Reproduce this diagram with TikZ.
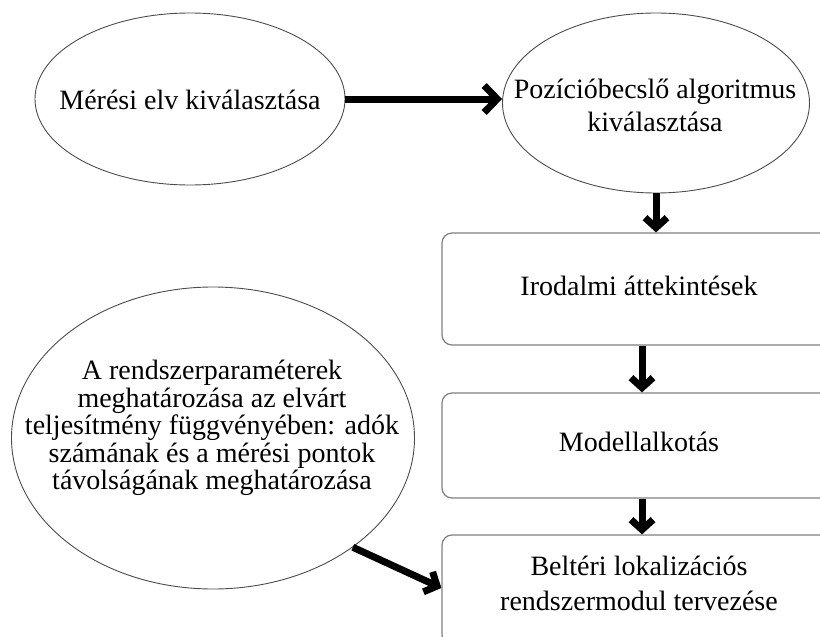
\documentclass[tikz,border=0pt]{standalone}
\usepackage{fontspec}
\setmainfont{Liberation Serif}
\usetikzlibrary{shapes.geometric,arrows.meta}
\begin{document}
\begin{tikzpicture}[x=1pt,y=-1pt,
  oval/.style={ellipse,draw=black!70,line width=0.9pt,inner sep=0pt},
  stepbox/.style={rectangle,rounded corners=10pt,draw=black!50,line width=1.2pt,
    minimum width=394pt,inner sep=0pt},
  txt/.style={inner sep=0pt,align=center,font=\fontsize{28}{33}\selectfont},
  tighttxt/.style={txt,font=\fontsize{28}{27.6}\selectfont},
  widetxt/.style={txt,font=\fontsize{28}{35}\selectfont},
  flow/.style={line width=7pt,-{Straight Barb[length=10pt,width=22pt]}},
  bigflow/.style={line width=7pt,-{Straight Barb[length=13pt,width=27pt]}},
]
\useasboundingbox (0,0) rectangle (820,637);
\begin{scope}
  \clip (0,0) rectangle (820,637);
  % upper row: the two selection steps
  \node[oval,minimum width=310pt,minimum height=172pt] (e1) at (190,99) {};
  \node[txt] (e1t) at (190,100) {Mérési elv kiválasztása};
  \node[oval,minimum width=307pt,minimum height=180pt] (e2) at (656,103) {};
  \node[txt] (e2t) at (655,105) {Pozícióbecslő algoritmus\\kiválasztása};
  % right column: the design steps
  \node[stepbox,minimum height=112pt] (b1) at (639,289) {};
  \node[txt] (b1t) at (639,286) {Irodalmi áttekintések};
  \node[stepbox,minimum height=105pt] (b2) at (639,445.5) {};
  \node[txt] (b2t) at (639,442) {Modellalkotás};
  \node[stepbox,minimum height=110pt] (b3) at (639,590) {};
  \node[widetxt] (b3t) at (639,583) {Beltéri lokalizációs\\rendszermodul tervezése};
  % lower left: system parameters
  \node[oval,minimum width=403pt,minimum height=302pt] (e3) at (213,438) {};
  \node[tighttxt] (e3t) at (212,428) {A rendszerparaméterek\\meghatározása az elvárt\\teljesítmény függvényében: adók\\számának és a mérési pontok\\távolságának meghatározása};
\end{scope}
% connectors
\draw[bigflow] (e1.east) -- (e1.east -| e2.west);
\draw[flow] (e2.south) -- (e2.south |- b1.north);
\draw[flow] ([xshift=3pt]b1.south) -- ([xshift=3pt]b2.north);
\draw[flow] ([xshift=3pt]b2.south) -- ([xshift=3pt]b3.north);
\draw[flow] (e3.-38) -- ([yshift=2pt]b3.west);
\end{tikzpicture}
\end{document}
